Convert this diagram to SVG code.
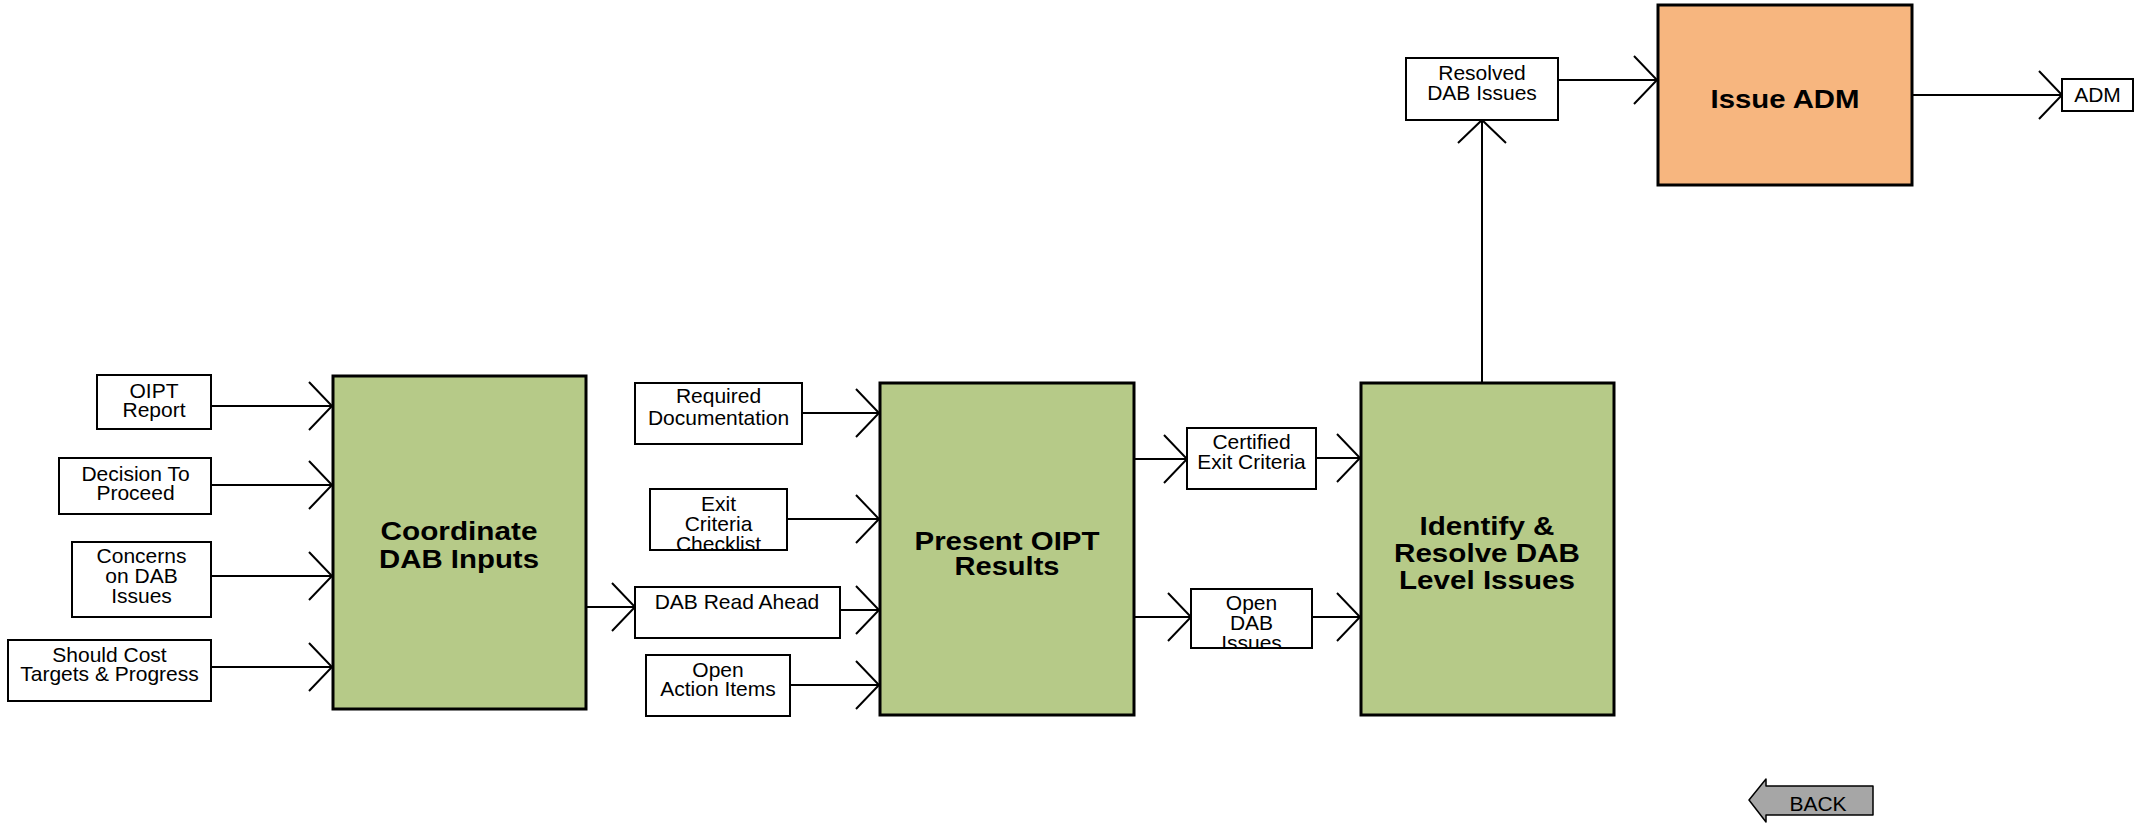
<svg xmlns="http://www.w3.org/2000/svg" width="2151" height="824" viewBox="0 0 2151 824">
<style>
.bg{fill:#fff}
.lb{fill:#fff;stroke:#000;stroke-width:2}
.gb{fill:#b6ca88;stroke:#000;stroke-width:3}
.ob{fill:#f7b67f;stroke:#000;stroke-width:3}
.t{font-family:"Liberation Sans",Arial,sans-serif;font-size:21px;text-anchor:middle;fill:#000}
.tt{font-family:"Liberation Sans",Arial,sans-serif;font-weight:bold;font-size:26px;text-anchor:middle;fill:#000}
.c{fill:none;stroke:#000;stroke-width:2;marker-end:url(#arr)}
</style>
<defs>
<marker id="arr" markerUnits="userSpaceOnUse" viewBox="-26 -27 28 54" refX="0" refY="0" markerWidth="28" markerHeight="54" orient="auto" overflow="visible">
<path d="M-23,-24 L0,0 L-23,24" fill="none" stroke="#000" stroke-width="2"/>
</marker>
<clipPath id="clipExit"><rect x="651" y="490" width="135" height="59"/></clipPath>
<clipPath id="clipOpen"><rect x="1192" y="590" width="119" height="57"/></clipPath>
</defs>
<rect class="bg" x="0" y="0" width="2151" height="824"/>

<g id="connectors">
<path class="c" d="M211,406 H332"/>
<path class="c" d="M211,485 H332"/>
<path class="c" d="M211,576 H332"/>
<path class="c" d="M211,667 H332"/>
<path class="c" d="M586,607 H635"/>
<path class="c" d="M802,413 H879"/>
<path class="c" d="M787,519 H879"/>
<path class="c" d="M840,610 H879"/>
<path class="c" d="M790,685 H879"/>
<path class="c" d="M1134,459 H1187"/>
<path class="c" d="M1134,617 H1191"/>
<path class="c" d="M1316,458 H1360"/>
<path class="c" d="M1312,617 H1360"/>
<path class="c" d="M1482,383 V120"/>
<path class="c" d="M1558,80 H1657"/>
<path class="c" d="M1912,95 H2062"/>
</g>

<g id="oipt-report">
<rect class="lb" x="97" y="375" width="114" height="54"/>
<text class="t" x="154" y="398">OIPT</text>
<text class="t" x="154" y="417">Report</text>
</g>
<g id="decision-to-proceed">
<rect class="lb" x="59" y="458" width="152" height="56"/>
<text class="t" x="135.5" y="481">Decision To</text>
<text class="t" x="135.5" y="500">Proceed</text>
</g>
<g id="concerns">
<rect class="lb" x="72" y="542" width="139" height="75"/>
<text class="t" x="141.5" y="563">Concerns</text>
<text class="t" x="141.5" y="583">on DAB</text>
<text class="t" x="141.5" y="603">Issues</text>
</g>
<g id="should-cost">
<rect class="lb" x="8" y="640" width="203" height="61"/>
<text class="t" x="109.5" y="662">Should Cost</text>
<text class="t" x="109.5" y="681">Targets &amp; Progress</text>
</g>

<g id="coordinate">
<rect class="gb" x="333" y="376" width="253" height="333"/>
<text class="tt" x="459" y="540" font-size="25" textLength="157" lengthAdjust="spacingAndGlyphs">Coordinate</text>
<text class="tt" x="459" y="568" font-size="25" textLength="160" lengthAdjust="spacingAndGlyphs">DAB Inputs</text>
</g>

<g id="required-documentation">
<rect class="lb" x="635" y="383" width="167" height="61"/>
<text class="t" x="718.5" y="403">Required</text>
<text class="t" x="718.5" y="425">Documentation</text>
</g>
<g id="exit-criteria-checklist">
<rect class="lb" x="650" y="489" width="137" height="61"/>
<g clip-path="url(#clipExit)">
<text class="t" x="718.5" y="511">Exit</text>
<text class="t" x="718.5" y="531">Criteria</text>
<text class="t" x="718.5" y="551">Checklist</text>
</g>
</g>
<g id="dab-read-ahead">
<rect class="lb" x="635" y="587" width="205" height="51"/>
<text class="t" x="737" y="609">DAB Read Ahead</text>
</g>
<g id="open-action-items">
<rect class="lb" x="646" y="655" width="144" height="61"/>
<text class="t" x="718" y="677">Open</text>
<text class="t" x="718" y="696">Action Items</text>
</g>

<g id="present-oipt-results">
<rect class="gb" x="880" y="383" width="254" height="332"/>
<text class="tt" x="1007" y="550" textLength="185" lengthAdjust="spacingAndGlyphs">Present OIPT</text>
<text class="tt" x="1007" y="575" textLength="105" lengthAdjust="spacingAndGlyphs">Results</text>
</g>

<g id="certified-exit-criteria">
<rect class="lb" x="1187" y="428" width="129" height="61"/>
<text class="t" x="1251.5" y="449">Certified</text>
<text class="t" x="1251.5" y="469">Exit Criteria</text>
</g>
<g id="open-dab-issues">
<rect class="lb" x="1191" y="589" width="121" height="59"/>
<g clip-path="url(#clipOpen)">
<text class="t" x="1251.5" y="610">Open</text>
<text class="t" x="1251.5" y="630">DAB</text>
<text class="t" x="1251.5" y="650">Issues</text>
</g>
</g>

<g id="identify-resolve">
<rect class="gb" x="1361" y="383" width="253" height="332"/>
<text class="tt" x="1487" y="535" textLength="135" lengthAdjust="spacingAndGlyphs">Identify &amp;</text>
<text class="tt" x="1487" y="562" textLength="186" lengthAdjust="spacingAndGlyphs">Resolve DAB</text>
<text class="tt" x="1487" y="589" textLength="176" lengthAdjust="spacingAndGlyphs">Level Issues</text>
</g>

<g id="resolved-dab-issues">
<rect class="lb" x="1406" y="58" width="152" height="62"/>
<text class="t" x="1482" y="80">Resolved</text>
<text class="t" x="1482" y="100">DAB Issues</text>
</g>

<g id="issue-adm">
<rect class="ob" x="1658" y="5" width="254" height="180"/>
<text class="tt" x="1785" y="108" font-size="29" textLength="149" lengthAdjust="spacingAndGlyphs">Issue ADM</text>
</g>

<g id="adm">
<rect class="lb" x="2062" y="79" width="71" height="32"/>
<text class="t" x="2097.5" y="102">ADM</text>
</g>

<g id="back">
<path d="M1749,800 L1766,779 L1766,786 L1873,786 L1873,815 L1766,815 L1766,822 Z" fill="#a6a6a6" stroke="#000" stroke-width="1.5" stroke-linejoin="round"/>
<text class="t" x="1818" y="811">BACK</text>
</g>
</svg>
